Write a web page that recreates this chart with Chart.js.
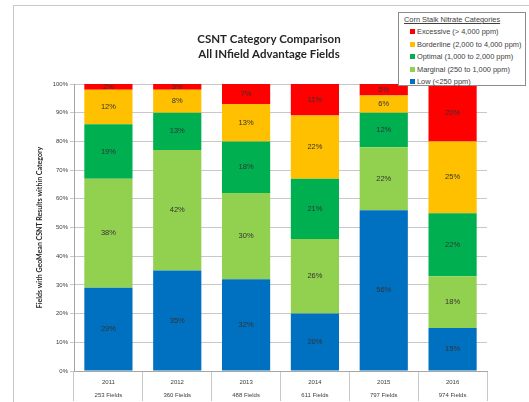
<!DOCTYPE html>
<html>
<head>
<meta charset="utf-8">
<script src="https://cdn.jsdelivr.net/npm/chart.js@4"></script>
<style>
  body { margin: 0; background: #fff; }
  #wrap { position: relative; width: 529px; height: 402px; overflow: hidden; }
  #frame { position: absolute; left: 13px; top: 5px; width: 540px; height: 420px; border: 1px solid #c8c8c8; }
  #legend { position: absolute; left: 398px; top: 12px; width: 128px; height: 74px; border: 1px solid #8c8c8c;
            background: #fff; font: 7.4px "Liberation Sans", Arial, sans-serif; color: #404040; box-sizing: border-box; padding: 2px 0 0 5px; }
  #legend .ttl { text-decoration: underline; margin-bottom: 3px; }
  #legend .it { height: 12.6px; padding-left: 6px; }
  #legend .sw { display: inline-block; width: 5px; height: 5px; margin-right: 2px; vertical-align: 0px; }
</style>
</head>
<body>
<div id="wrap">
  <div id="frame"></div>
  <canvas id="chart" width="529" height="402"></canvas>
  <div id="legend"></div>
</div>
<script>
// CSNT category shares per year (percent of fields)
const years = ["2011", "2012", "2013", "2014", "2015", "2016"];
const fieldCounts = ["253 Fields", "360 Fields", "488 Fields", "611 Fields", "797 Fields", "974 Fields"];

const low        = [29, 35, 32, 20, 56, 15];
const marginal   = [38, 42, 30, 26, 22, 18];
const optimal    = [19, 13, 18, 21, 12, 22];
const borderline = [12,  8, 13, 22,  6, 25];
const excessive  = [ 2,  3,  7, 11,  5, 20];

const yTicks = [0, 10, 20, 30, 40, 50, 60, 70, 80, 90, 100];

const series = [
  { label: "Low (<250 ppm)", data: low, color: "#0070C0" },
  { label: "Marginal (250 to 1,000 ppm)", data: marginal, color: "#92D050" },
  { label: "Optimal (1,000 to 2,000 ppm)", data: optimal, color: "#00B050" },
  { label: "Borderline (2,000 to 4,000 ppm)", data: borderline, color: "#FFC000" },
  { label: "Excessive (> 4,000 ppm)", data: excessive, color: "#FF0000" }
];

// legend box (top right), reversed order like the original
const lg = document.getElementById("legend");
let html = '<div class="ttl">Corn Stalk Nitrate Categories</div>';
series.slice().reverse().forEach(s => {
  html += '<div class="it"><span class="sw" style="background:' + s.color + '"></span>' + s.label + '</div>';
});
lg.innerHTML = html;

// percent labels in the middle of each segment
const segmentLabels = {
  id: "segmentLabels",
  afterDatasetsDraw(chart) {
    const ctx = chart.ctx;
    ctx.save();
    ctx.font = '7.5px "Liberation Sans", Arial, sans-serif';
    ctx.fillStyle = "#333";
    ctx.textAlign = "center";
    ctx.textBaseline = "middle";
    chart.data.datasets.forEach((ds, i) => {
      chart.getDatasetMeta(i).data.forEach((bar, j) => {
        const top = Math.max(bar.y, chart.chartArea.top);
        ctx.fillText(ds.data[j] + "%", bar.x, (top + bar.base) / 2);
      });
    });
    ctx.restore();
  }
};

// two-line chart title
const chartTitle = {
  id: "chartTitle",
  afterDraw(chart) {
    const ctx = chart.ctx;
    ctx.save();
    ctx.font = 'bold 11.5px Lato, "Open Sans", sans-serif';
    ctx.fillStyle = "#262626";
    ctx.textAlign = "center";
    ctx.textBaseline = "middle";
    ctx.fillText("CSNT Category Comparison", 269, 39);
    ctx.fillText("All INfield Advantage Fields", 269, 54);
    ctx.restore();
  }
};

new Chart(document.getElementById("chart"), {
  type: "bar",
  data: {
    labels: years.map((y, i) => [y, fieldCounts[i]]),
    datasets: series.map(s => ({
      label: s.label,
      data: s.data,
      backgroundColor: s.color,
      barPercentage: 0.7,
      categoryPercentage: 1
    }))
  },
  options: {
    responsive: false,
    animation: false,
    layout: { padding: { top: 84, left: 14, right: 42, bottom: 0 } },
    plugins: {
      legend: { display: false },
      tooltip: { enabled: false }
    },
    scales: {
      x: {
        stacked: true,
        afterFit: s => { s.height = 31; },
        grid: { offset: true, drawOnChartArea: false, drawTicks: true, tickLength: 30, color: "#c8c8c8" },
        border: { color: "#a6a6a6" },
        ticks: {
          padding: -25,
          color: "#404040",
          font: { family: '"Liberation Sans", Arial, sans-serif', size: 6, lineHeight: 2.1 }
        }
      },
      y: {
        stacked: true,
        min: 0,
        max: 100,
        afterFit: s => { s.width = 60; },
        afterBuildTicks: s => { s.ticks = yTicks.map(v => ({ value: v })); },
        grid: { color: "#c8c8c8", tickLength: 4 },
        border: { color: "#a6a6a6" },
        ticks: {
          padding: 2,
          color: "#404040",
          font: { family: '"Liberation Sans", Arial, sans-serif', size: 6 },
          callback: v => v + "%"
        },
        title: {
          display: true,
          text: "Fields with GeoMean CSNT Results within Category",
          color: "#262626",
          font: { family: 'Lato, "Open Sans", sans-serif', size: 7, weight: "bold" },
          padding: { top: 22, bottom: 0 }
        }
      }
    }
  },
  plugins: [segmentLabels, chartTitle]
});
</script>
</body>
</html>
